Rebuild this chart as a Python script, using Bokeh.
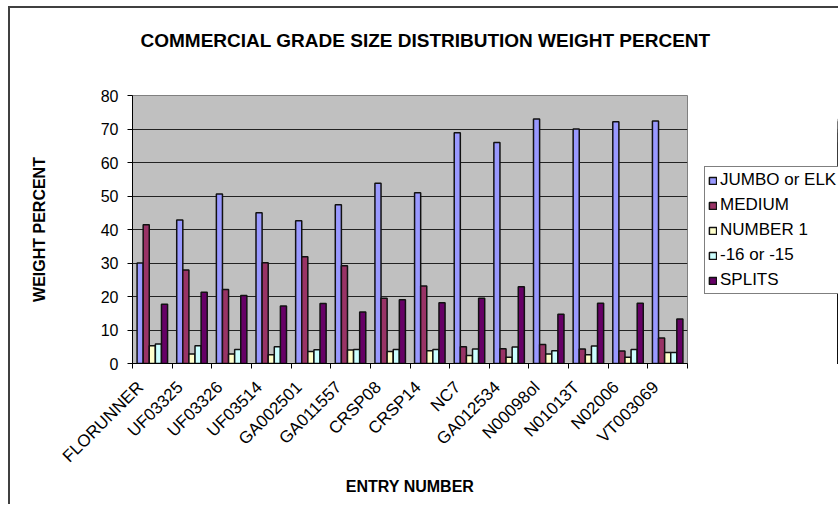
from bokeh.plotting import figure
from bokeh.layouts import column, row
from bokeh.models import (Range1d, FixedTicker, Legend, LegendItem, ColumnDataSource)
from bokeh.core.properties import value
from bokeh.embed import file_html
from bokeh.resources import INLINE

categories = ["FLORUNNER", "UF03325", "UF03326", "UF03514", "GA002501", "GA011557",
              "CRSP08", "CRSP14", "NC7", "GA012534", "N00098ol", "N01013T", "N02006", "VT003069"]
jumbo = [30.0, 42.8, 50.6, 45.0, 42.6, 47.4, 53.8, 51.0, 68.9, 66.0, 73.0, 70.0, 72.2, 72.4]
medium = [41.4, 27.9, 22.1, 30.1, 31.9, 29.2, 19.5, 23.1, 5.0, 4.4, 5.7, 4.3, 3.7, 7.6]
number1 = [5.3, 2.8, 2.8, 2.6, 3.6, 4.0, 3.6, 3.8, 2.4, 1.9, 2.8, 2.6, 1.9, 3.3]
minus16 = [5.8, 5.3, 4.2, 5.0, 4.1, 4.2, 4.2, 4.2, 4.3, 4.9, 3.8, 5.2, 4.2, 3.3]
splits = [17.7, 21.3, 20.3, 17.2, 17.9, 15.4, 19.0, 18.1, 19.5, 22.9, 14.7, 18.0, 18.0, 13.3]
series_names = ["JUMBO or ELK", "MEDIUM", "NUMBER 1", "-16 or -15", "SPLITS"]
series_colors = ["#9999FF", "#993366", "#FFFFCC", "#CCFFFF", "#660066"]
y_ticks = [0, 10, 20, 30, 40, 50, 60, 70, 80]
title_text = "COMMERCIAL GRADE SIZE DISTRIBUTION WEIGHT PERCENT"

FONT = "Liberation Sans"

# ---------------- title strip ----------------
T_W, T_H = 828, 52
t = figure(width=T_W, height=T_H, output_backend="svg", toolbar_location=None,
           x_range=Range1d(0, T_W), y_range=Range1d(0, T_H), title=None,
           x_axis_location=None, y_axis_location=None,
           min_border=0, min_border_left=0, min_border_right=0,
           min_border_top=0, min_border_bottom=0)
t.outline_line_color = None
t.grid.visible = False
t.text(x=[130], y=[20], text=[title_text], text_font=value(FONT), text_font_size="19px",
       text_font_style="bold", text_color="black", text_align="left", text_baseline="middle")

# ---------------- main chart ----------------
P_W, P_H = 687, 444
p = figure(width=P_W, height=P_H, output_backend="svg", toolbar_location=None, title=None,
           x_range=Range1d(0, len(categories)), y_range=Range1d(0, 80),
           min_border_left=122, min_border_right=10, min_border_top=35, min_border_bottom=141)
p.background_fill_color = "#C0C0C0"
p.border_fill_color = "white"
p.outline_line_color = "#808080"
p.outline_line_width = 1

w = 1.0 / 6.5
all_series = [jumbo, medium, number1, minus16, splits]
sources = []
for k, (vals, col) in enumerate(zip(all_series, series_colors)):
    src = ColumnDataSource(dict(x=[i + (1.25 + k) * w for i in range(len(categories))], top=vals))
    sources.append(src)
    p.vbar(x="x", top="top", bottom=0, width=w, source=src, fill_color=col,
           line_color="#111111", line_width=1.5)

xa = p.below[0]
ya = p.left[0]

label_pos = [i + 0.2 for i in range(len(categories))]
xa.ticker = FixedTicker(ticks=label_pos, minor_ticks=list(range(len(categories) + 1)))
xa.major_label_overrides = {pos: c for pos, c in zip(label_pos, categories)}
xa.major_label_orientation = 0.785398
xa.major_tick_out = 0
xa.major_tick_in = 0
xa.major_tick_line_color = None
xa.minor_tick_out = 5
xa.minor_tick_in = 0
xa.minor_tick_line_color = "black"
xa.major_label_text_font = FONT
xa.major_label_text_font_size = "17px"
xa.major_label_text_color = "black"
xa.major_label_standoff = 16
xa.axis_label = "ENTRY NUMBER"
xa.axis_label_text_font = FONT
xa.axis_label_text_font_size = "16px"
xa.axis_label_text_font_style = "bold"
xa.axis_label_text_color = "black"
xa.axis_label_standoff = 2
xa.axis_line_color = "black"

ya.ticker = FixedTicker(ticks=y_ticks, minor_ticks=[])
ya.major_tick_out = 5
ya.major_tick_in = 0
ya.major_label_text_font = FONT
ya.major_label_text_font_size = "16px"
ya.major_label_text_color = "black"
ya.major_label_standoff = 9
ya.axis_label = "WEIGHT PERCENT"
ya.axis_label_text_font = FONT
ya.axis_label_text_font_size = "16px"
ya.axis_label_text_font_style = "bold"
ya.axis_label_text_color = "black"
ya.axis_label_standoff = 50
ya.axis_line_color = "black"

p.xgrid.grid_line_color = None
p.ygrid.grid_line_color = "#222222"
p.ygrid.grid_line_width = 1

# ---------------- legend strip (frame aligned with the chart frame) ----------------
Q_W = T_W - P_W
q = figure(width=Q_W, height=P_H, output_backend="svg", toolbar_location=None, title=None,
           x_range=Range1d(-20, -19), y_range=Range1d(0, 80),
           x_axis_location=None, y_axis_location=None,
           min_border=0, min_border_left=0, min_border_right=0,
           min_border_top=0, min_border_bottom=0)
q.outline_line_color = None
q.grid.visible = False
items = []
for name, col, src in zip(series_names, series_colors, sources):
    # same series data; this strip's x range lies outside it, so only the legend keys show
    r = q.vbar(x="x", top="top", bottom=0, width=w, source=src, fill_color=col,
               line_color="#111111", line_width=1.5)
    items.append(LegendItem(label=name, renderers=[r]))

legend = Legend(items=items, location=(7, 69))
legend.label_text_font = FONT
legend.label_text_font_size = "17px"
legend.label_text_color = "black"
legend.glyph_width = 9
legend.glyph_height = 9
legend.label_height = 20
legend.spacing = 5
legend.padding = 3
legend.margin = 0
legend.label_standoff = 3
legend.border_line_color = "black"
legend.border_line_width = 1
legend.background_fill_color = "white"
legend.background_fill_alpha = 1
q.add_layout(legend, "center")

layout = column(t, row(p, q, spacing=0), spacing=0)
layout.styles = {"margin-left": "8px", "margin-top": "6px",
                 "border-left": "2px solid #404040", "border-top": "2px solid #404040"}

open("out.html", "w").write(file_html(layout, INLINE))
